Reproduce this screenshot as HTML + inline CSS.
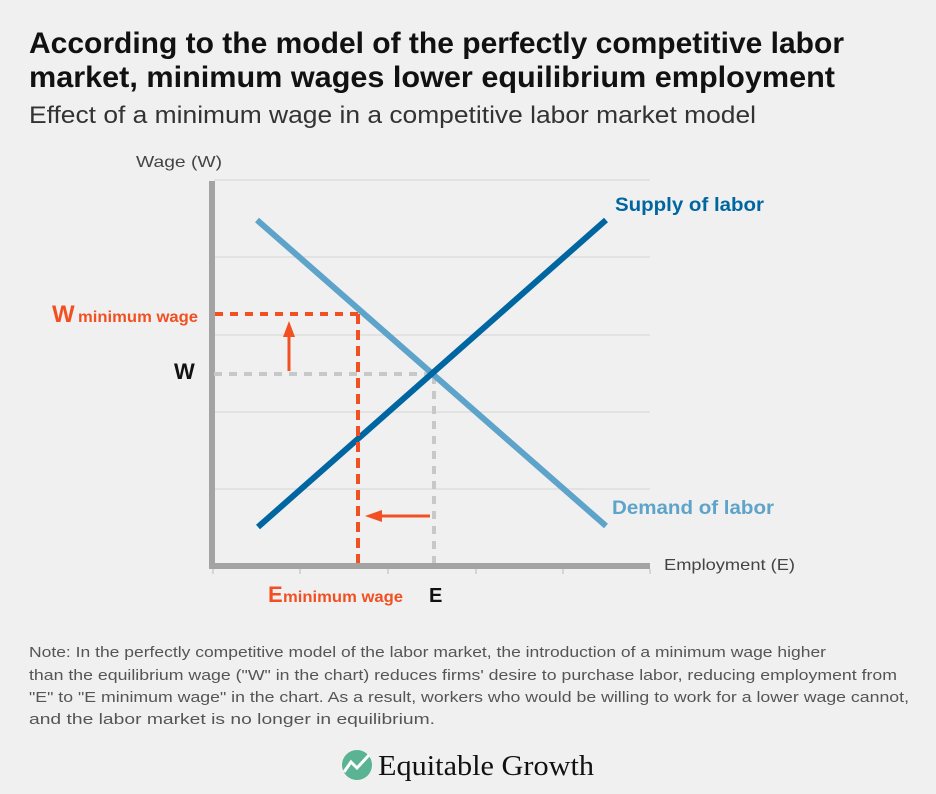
<!DOCTYPE html>
<html><head><meta charset="utf-8"><style>
body{margin:0;background:#f0f0f0;width:936px;height:794px;overflow:hidden;font-family:"Liberation Sans",sans-serif}
</style></head><body>
<svg width="936" height="794" viewBox="0 0 936 794" xmlns="http://www.w3.org/2000/svg" style="position:absolute;left:0;top:0">
<rect width="936" height="794" fill="#f0f0f0"/>
<text x="29" y="53" font-size="30" font-weight="bold" fill="#111" textLength="815" lengthAdjust="spacingAndGlyphs">According to the model of the perfectly competitive labor</text>
<text x="29" y="87" font-size="30" font-weight="bold" fill="#111" textLength="806" lengthAdjust="spacingAndGlyphs">market, minimum wages lower equilibrium employment</text>
<text x="29" y="123" font-size="24" fill="#333" textLength="727" lengthAdjust="spacingAndGlyphs">Effect of a minimum wage in a competitive labor market model</text>
<text x="136" y="167" font-size="16" fill="#444" textLength="86" lengthAdjust="spacingAndGlyphs">Wage (W)</text>
<g stroke="#ddd" stroke-width="1.5">
<line x1="214" y1="180" x2="650" y2="180"/><line x1="214" y1="257" x2="650" y2="257"/>
<line x1="214" y1="335" x2="650" y2="335"/><line x1="214" y1="412" x2="650" y2="412"/>
<line x1="214" y1="489" x2="650" y2="489"/>
</g>
<line x1="212" y1="181" x2="212" y2="569" stroke="#a3a3a3" stroke-width="6"/>
<line x1="209" y1="566" x2="650" y2="566" stroke="#a3a3a3" stroke-width="6"/>
<g stroke="#ccc" stroke-width="1.5"><line x1="300" y1="569" x2="300" y2="574"/><line x1="388" y1="569" x2="388" y2="574"/><line x1="476" y1="569" x2="476" y2="574"/><line x1="563" y1="569" x2="563" y2="574"/><line x1="650" y1="569" x2="650" y2="574"/><line x1="213" y1="569" x2="213" y2="574"/></g>
<line x1="214" y1="374" x2="432" y2="374" stroke="#c8c8c8" stroke-width="4" stroke-dasharray="8,7"/>
<line x1="434" y1="376" x2="434" y2="563" stroke="#c8c8c8" stroke-width="4" stroke-dasharray="8,7"/>
<line x1="257" y1="220" x2="606" y2="526" stroke="#5ea3c9" stroke-width="6"/>
<line x1="258" y1="527" x2="606" y2="220" stroke="#0066a1" stroke-width="6"/>
<line x1="215" y1="314" x2="358" y2="314" stroke="#f25022" stroke-width="4" stroke-dasharray="8,7"/>
<line x1="358" y1="314" x2="358" y2="563" stroke="#f25022" stroke-width="4" stroke-dasharray="10,6"/>
<line x1="289" y1="371" x2="289" y2="335" stroke="#f25022" stroke-width="3"/>
<polygon points="283,337 295,337 289,321" fill="#f25022"/>
<line x1="430" y1="516" x2="380" y2="516" stroke="#f25022" stroke-width="3"/>
<polygon points="382,510 382,522 365,516" fill="#f25022"/>
<text x="52" y="322" font-size="24" font-weight="bold" fill="#f25022">W</text>
<text x="78" y="322" font-size="16" font-weight="bold" fill="#f25022" textLength="120" lengthAdjust="spacingAndGlyphs">minimum wage</text>
<text x="174" y="379" font-size="22" font-weight="bold" fill="#111">W</text>
<text x="268" y="602" font-size="22" font-weight="bold" fill="#f25022">E</text>
<text x="283" y="602" font-size="16" font-weight="bold" fill="#f25022" textLength="120" lengthAdjust="spacingAndGlyphs">minimum wage</text>
<text x="429" y="602" font-size="20" font-weight="bold" fill="#111">E</text>
<text x="615" y="211" font-size="19" font-weight="bold" fill="#0066a1" textLength="149" lengthAdjust="spacingAndGlyphs">Supply of labor</text>
<text x="612" y="514" font-size="19" font-weight="bold" fill="#5ea3c9" textLength="162" lengthAdjust="spacingAndGlyphs">Demand of labor</text>
<text x="664" y="570" font-size="16" fill="#444" textLength="131" lengthAdjust="spacingAndGlyphs">Employment (E)</text>
<g font-size="15" fill="#555">
<text x="29" y="657" textLength="797" lengthAdjust="spacingAndGlyphs">Note: In the perfectly competitive model of the labor market, the introduction of a minimum wage higher</text>
<text x="29" y="680" textLength="868" lengthAdjust="spacingAndGlyphs">than the equilibrium wage ("W" in the chart) reduces firms' desire to purchase labor, reducing employment from</text>
<text x="29" y="702" textLength="880" lengthAdjust="spacingAndGlyphs">"E" to "E minimum wage" in the chart. As a result, workers who would be willing to work for a lower wage cannot,</text>
<text x="29" y="724" textLength="406" lengthAdjust="spacingAndGlyphs">and the labor market is no longer in equilibrium.</text>
</g>
<circle cx="357" cy="765" r="15" fill="#5ab494"/>
<polyline points="344,772 351,762 357,768 369,755" fill="none" stroke="#fff" stroke-width="3"/>
<text x="378" y="775" font-family="Liberation Serif,serif" font-size="29" fill="#111" textLength="216" lengthAdjust="spacingAndGlyphs">Equitable Growth</text>
</svg>
</body></html>
